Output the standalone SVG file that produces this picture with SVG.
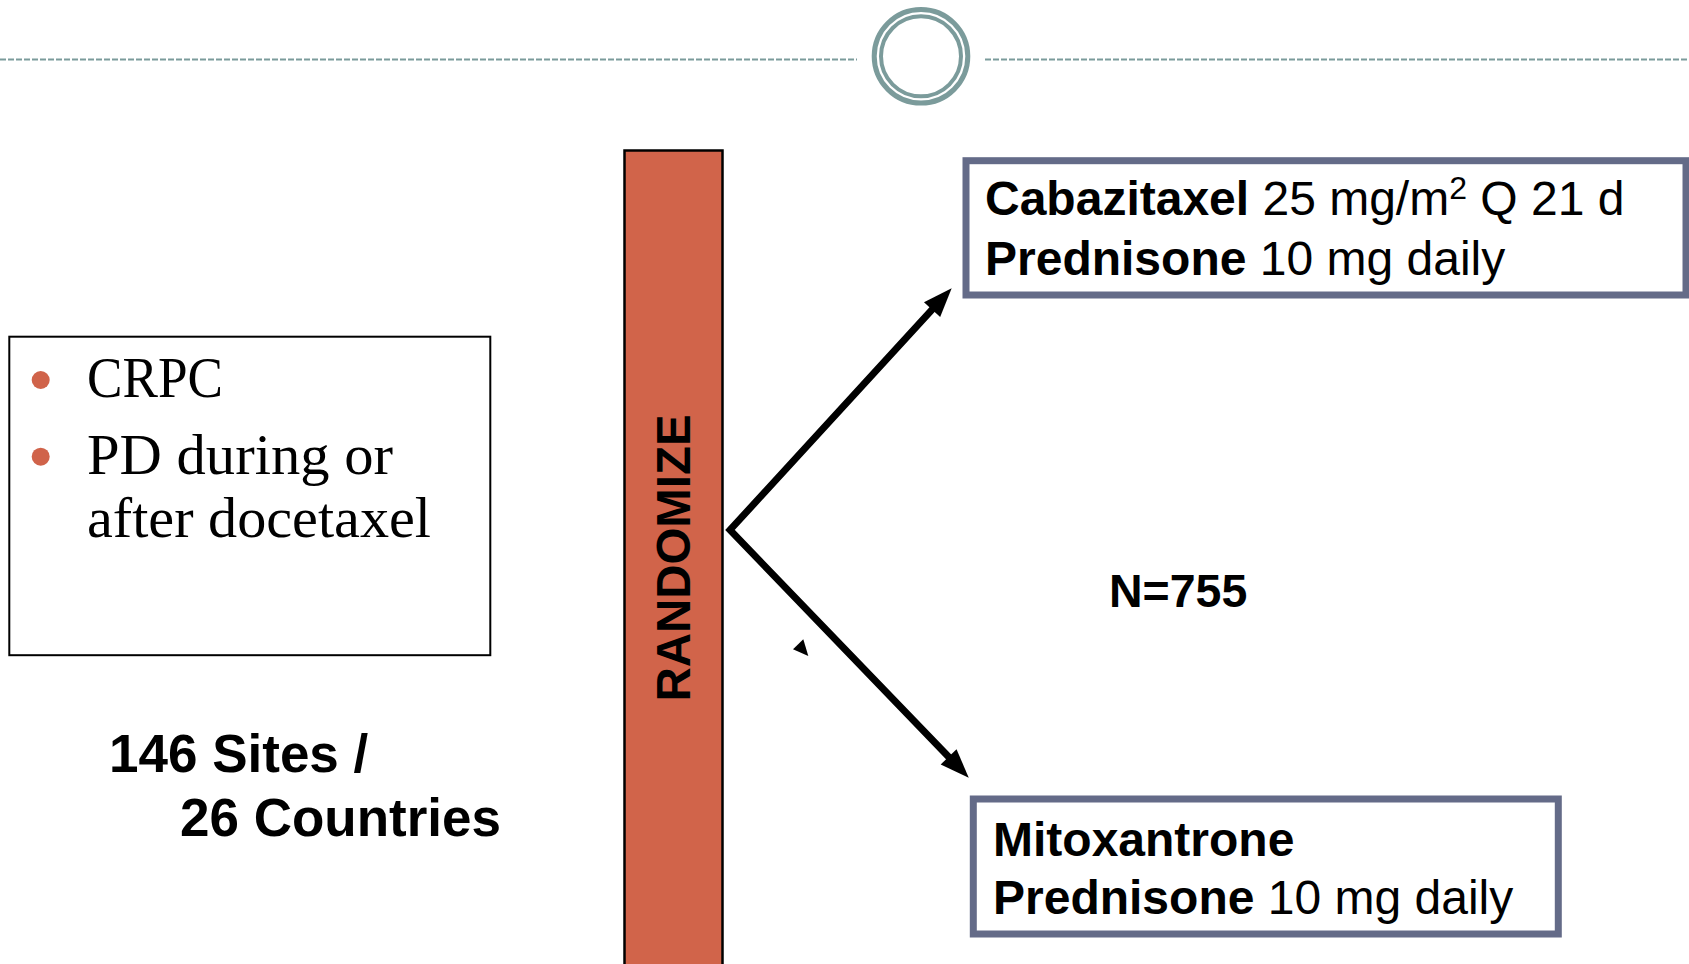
<svg xmlns="http://www.w3.org/2000/svg" width="1689" height="964" viewBox="0 0 1689 964">
<style>
.sans{font-family:"Liberation Sans",Arial,sans-serif;fill:#000}
.serif{font-family:"Liberation Serif","Times New Roman",serif;fill:#000}
.b{font-weight:bold}
.arm{fill:#fff;stroke:#646b88;stroke-width:7}
.dash{stroke:#7b9b9b;stroke-width:2;stroke-dasharray:6 2;fill:none}
.bullet{fill:#d0634a}
</style>
<defs>
<marker id="ah" markerUnits="userSpaceOnUse" markerWidth="32" markerHeight="26" viewBox="-4 -13 32 26" refX="0" refY="0" orient="auto-start-reverse">
<path d="M-3,-11 L26,0 L-3,11 z" fill="#000"/>
</marker>
</defs>
<rect width="1689" height="964" fill="#fff"/>
<g id="header">
<line class="dash" x1="0" y1="59.5" x2="857" y2="59.5"/>
<line class="dash" x1="985" y1="59.5" x2="1689" y2="59.5"/>
<circle cx="921" cy="56.3" r="46.8" fill="#fff" stroke="#7b9b9b" stroke-width="5"/>
<circle cx="921" cy="56.3" r="40" fill="none" stroke="#7b9b9b" stroke-width="4"/>
</g>
<g id="criteria">
<rect x="9.3" y="336.7" width="481" height="318.5" fill="#fff" stroke="#000" stroke-width="2"/>
<circle class="bullet" cx="40.7" cy="380" r="9"/>
<circle class="bullet" cx="40.7" cy="456.7" r="9"/>
<text class="serif" x="87" y="397" font-size="56" textLength="136" lengthAdjust="spacingAndGlyphs">CRPC</text>
<text class="serif" x="87" y="474" font-size="56" textLength="306" lengthAdjust="spacingAndGlyphs">PD during or</text>
<text class="serif" x="87" y="537" font-size="56" textLength="344" lengthAdjust="spacingAndGlyphs">after docetaxel</text>
</g>
<g id="sites">
<text class="sans b" x="109" y="772" font-size="53">146 Sites /</text>
<text class="sans b" x="180" y="836" font-size="53">26 Countries</text>
</g>
<g id="randomize">
<rect x="624.5" y="150.5" width="98" height="830" fill="#d1644a" stroke="#000" stroke-width="2.5"/>
<text class="sans b" transform="translate(690,558) rotate(-90)" x="0" y="0" font-size="48" text-anchor="middle" textLength="287" lengthAdjust="spacingAndGlyphs">RANDOMIZE</text>
</g>
<g id="arm-cabazitaxel">
<rect class="arm" x="966" y="160.7" width="720" height="134.3"/>
<text class="sans" x="985" y="215" font-size="48"><tspan class="b">Cabazitaxel</tspan> 25 mg/m<tspan font-size="32" dy="-16">2</tspan><tspan dy="16"> Q 21 d</tspan></text>
<text class="sans" x="985" y="275" font-size="48"><tspan class="b">Prednisone</tspan> 10 mg daily</text>
</g>
<g id="arm-mitoxantrone">
<rect class="arm" x="973.3" y="799" width="585" height="135"/>
<text class="sans b" x="993" y="856" font-size="48">Mitoxantrone</text>
<text class="sans" x="993" y="913.5" font-size="48"><tspan class="b">Prednisone</tspan> 10 mg daily</text>
</g>
<g id="n-label">
<text class="sans b" x="1109" y="607" font-size="46.5">N=755</text>
</g>
<g id="connectors">
<path d="M934.1,307.4 L730,530 L950.7,759" fill="none" stroke="#000" stroke-width="7" stroke-linejoin="miter" marker-start="url(#ah)" marker-end="url(#ah)"/>
<polygon points="793,649.3 803.3,639.3 808.3,656" fill="#000"/>
</g>
</svg>
